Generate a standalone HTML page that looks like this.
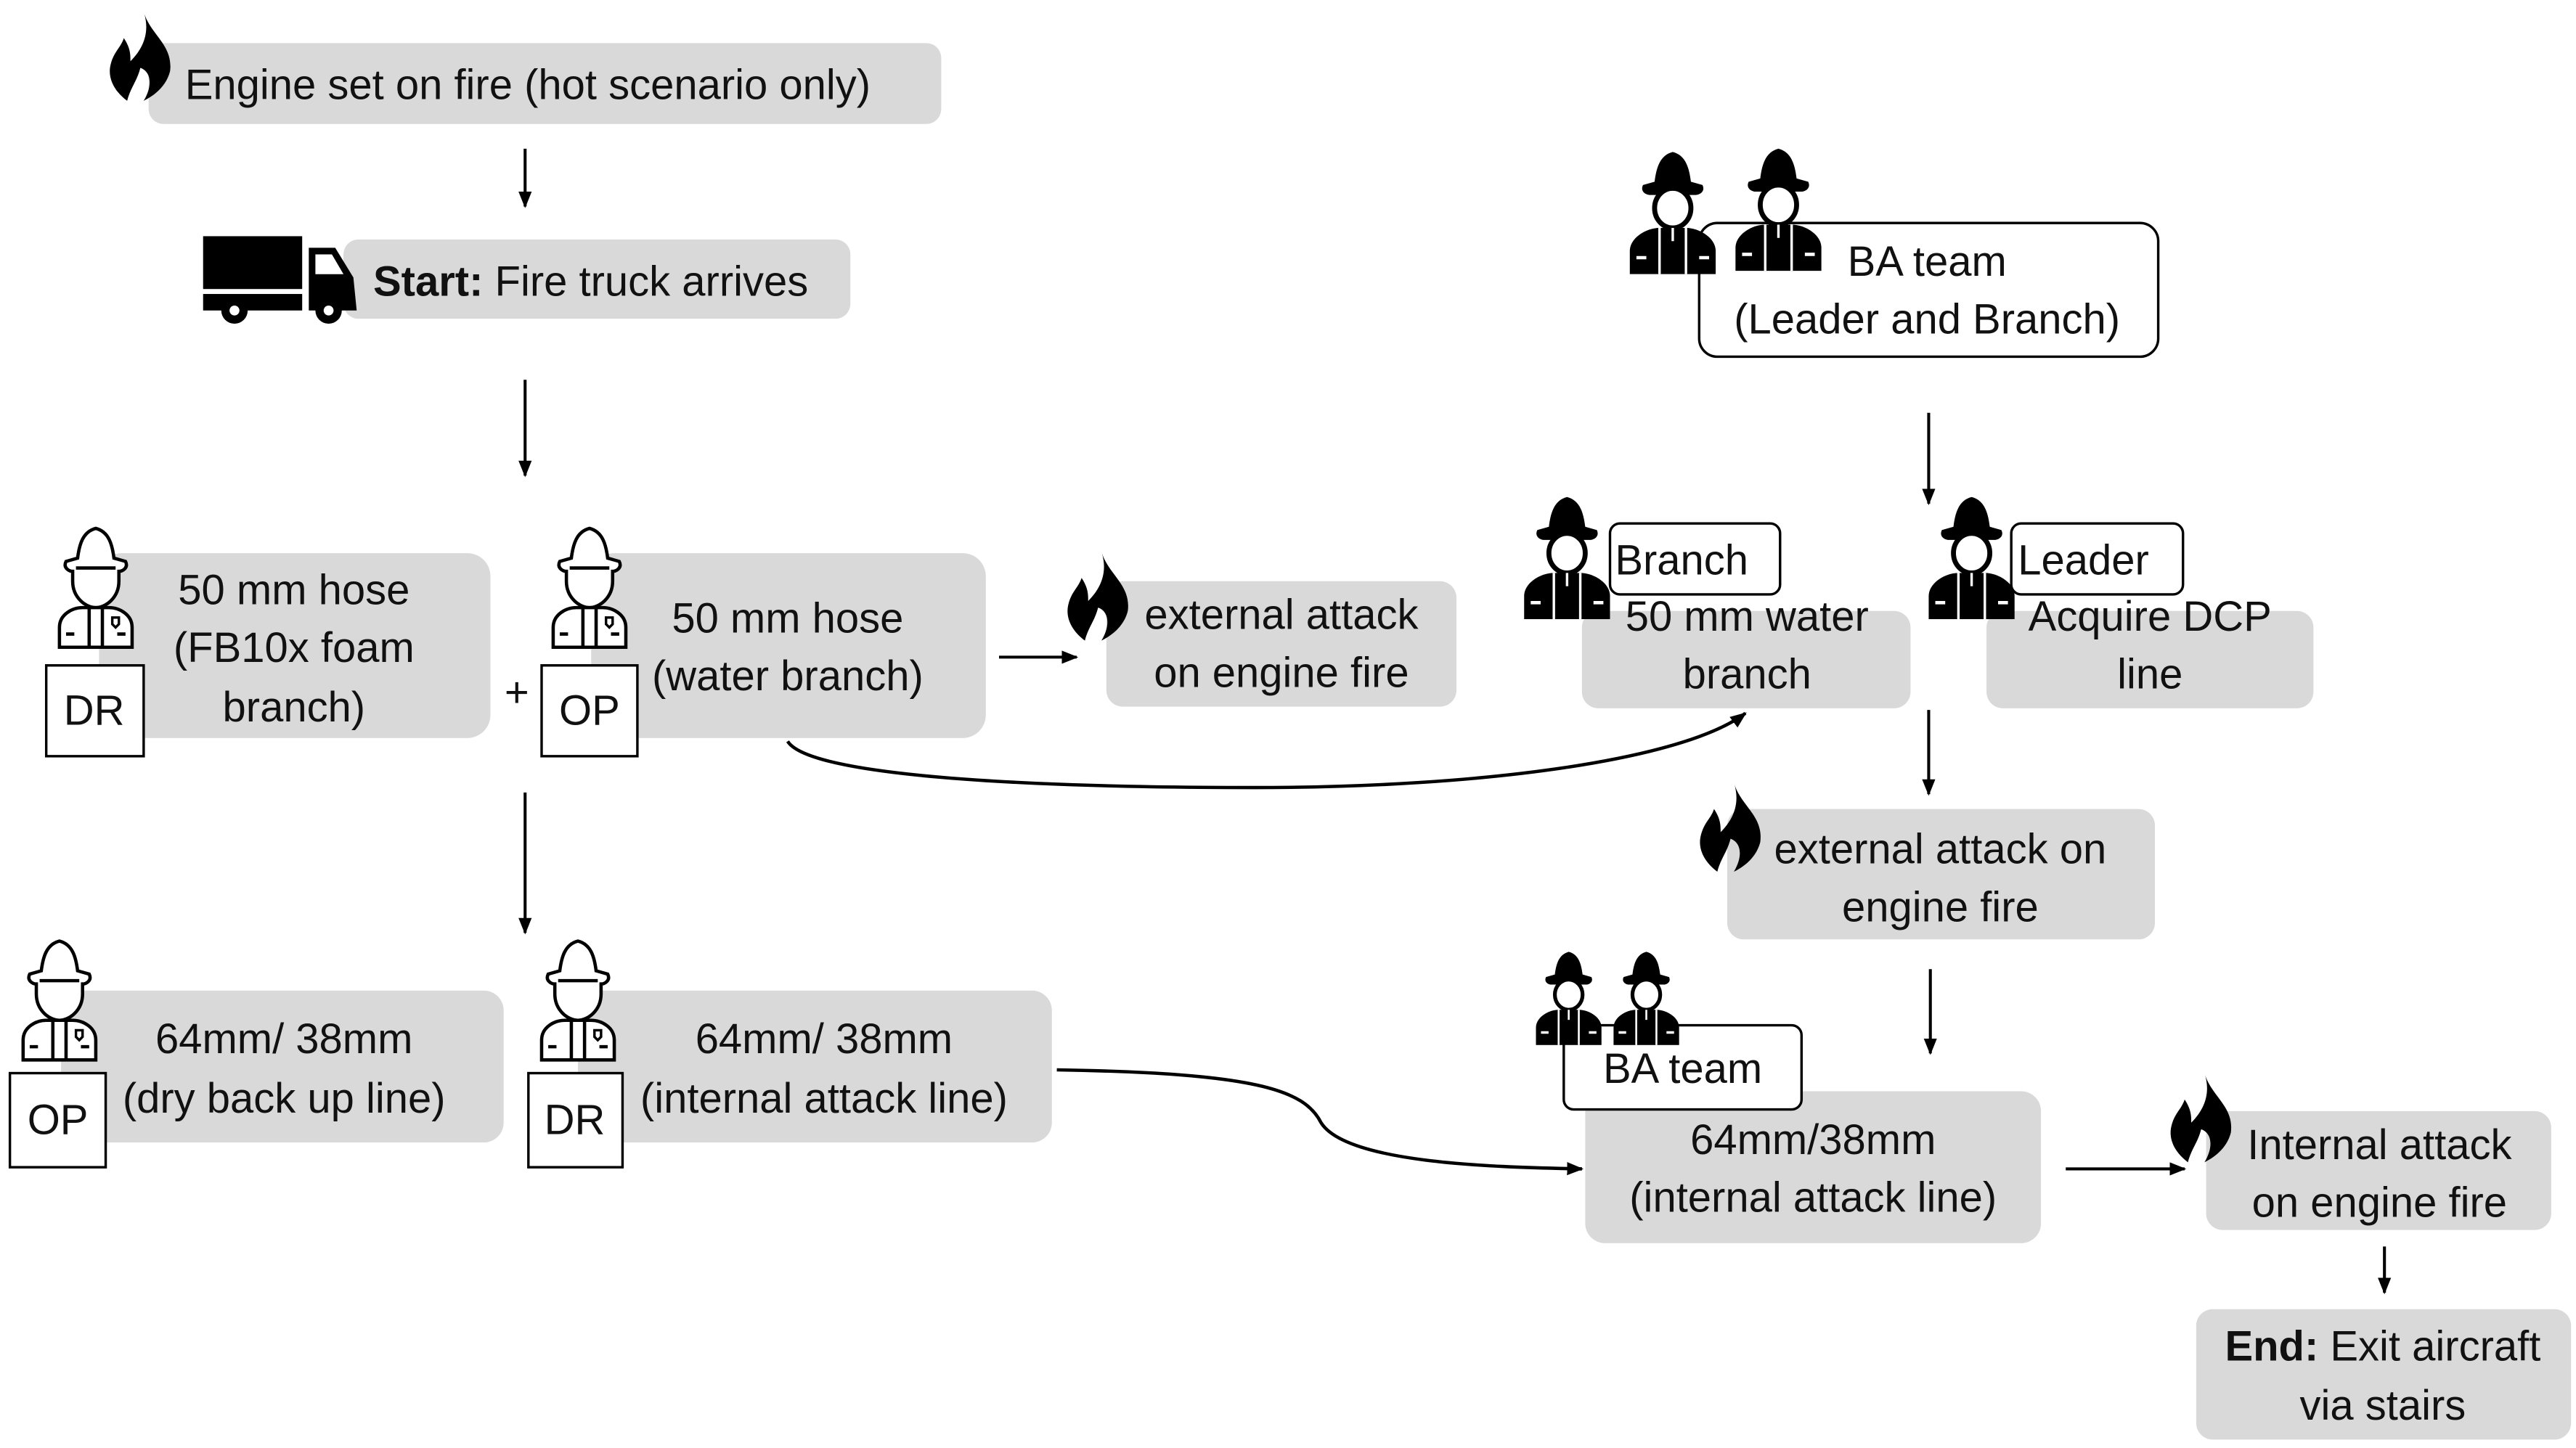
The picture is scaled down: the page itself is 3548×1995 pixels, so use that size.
<!DOCTYPE html>
<html><head><meta charset="utf-8"><style>
html,body{margin:0;padding:0;background:#fff}
svg{display:block}
text{font-family:"Liberation Sans",sans-serif;font-size:25.5px;fill:#111}
.c{text-anchor:middle}
</style></head><body>
<svg width="3548" height="1995" viewBox="0 0 1560 877" xmlns="http://www.w3.org/2000/svg">
<defs>
<marker id="a" markerWidth="10" markerHeight="10" refX="9" refY="5" orient="auto" markerUnits="userSpaceOnUse"><path d="M0,1 L10,5 L0,9 Z" fill="#000"/></marker>
<symbol id="ffo" viewBox="0 0 60 76">
<path d="M30,2 C22,4 20,12 19,20 L12,22 C10,26 14,28 16,28 L16,34 C16,44 24,50 30,50 C36,50 44,44 44,34 L44,28 C46,28 50,26 48,22 L41,20 C40,12 38,4 30,2 Z" fill="#fff" stroke="#000" stroke-width="2"/>
<path d="M18,26 L42,26" stroke="#000" stroke-width="2"/>
<path d="M8,74 L8,62 C8,54 16,50 22,50 L38,50 C44,50 52,54 52,62 L52,74 Z" fill="#fff" stroke="#000" stroke-width="2"/>
<path d="M26,50 L26,74 M34,50 L34,74 M12,66 L17,66 M43,66 L48,66" stroke="#000" stroke-width="2"/>
<path d="M40,56 l4,0 0,4 -2,2 -2,-2 z" fill="none" stroke="#000" stroke-width="1.5"/>
</symbol>
<symbol id="ffs" viewBox="0 0 60 76">
<path d="M30,2 C22,4 20,12 19,20 L12,22 C10,26 14,28 16,28 L44,28 C46,28 50,26 48,22 L41,20 C40,12 38,4 30,2 Z" fill="#000"/>
<ellipse cx="30" cy="36" rx="11" ry="12" fill="#fff" stroke="#000" stroke-width="3"/>
<path d="M4,76 L4,62 C4,54 14,48 22,48 L38,48 C46,48 56,54 56,62 L56,76 Z" fill="#000"/>
<path d="M22,48 L22,76 M38,48 L38,76 M30,48 L30,56" stroke="#fff" stroke-width="1.5"/>
<path d="M8,66 L14,66 M46,66 L52,66" stroke="#fff" stroke-width="2"/>
</symbol>
<symbol id="fl" viewBox="0 0 40 55">
<path d="M22,0 C26,14 40,20 38,36 C36,44 30,50 22,54 C28,44 26,36 20,34 C18,42 14,46 12,54 C4,48 0,40 2,32 C4,24 8,22 10,16 C14,22 14,26 14,30 C22,22 26,12 22,0 Z" fill="#000"/>
</symbol>
</defs>

<rect x="90" y="26" width="480" height="49" rx="9" fill="#d9d9d9"/>
<use href="#fl" x="65" y="7" width="40" height="55"/>
<text x="112" y="60">Engine set on fire (hot scenario only)</text>
<line x1="318" y1="90" x2="318" y2="125" stroke="#000" stroke-width="1.8" marker-end="url(#a)"/>

<rect x="208" y="145" width="307" height="48" rx="9" fill="#d9d9d9"/>
<rect x="123" y="143" width="60" height="32" fill="#000"/>
<rect x="123" y="178" width="60" height="10" fill="#000"/>
<path d="M187,150 L203,150 L214,168 L216,188 L187,188 Z" fill="#000"/>
<path d="M191,154 L201,154 L208,166 L191,166 Z" fill="#fff"/>
<circle cx="142" cy="188" r="8" fill="#000"/><circle cx="142" cy="188" r="3" fill="#fff"/>
<circle cx="199" cy="188" r="8" fill="#000"/><circle cx="199" cy="188" r="3" fill="#fff"/>
<text x="226" y="179"><tspan font-weight="bold">Start:</tspan> Fire truck arrives</text>
<line x1="318" y1="230" x2="318" y2="288" stroke="#000" stroke-width="1.8" marker-end="url(#a)"/>

<rect x="60" y="335" width="237" height="112" rx="14" fill="#d9d9d9"/>
<use href="#ffo" x="28" y="318" width="60" height="76"/>
<rect x="28" y="403" width="59" height="55" fill="#fff" stroke="#000" stroke-width="1.5"/>
<text x="57" y="439" class="c">DR</text>
<text x="178" y="366" class="c">50 mm hose</text>
<text x="178" y="401" class="c">(FB10x foam</text>
<text x="178" y="437" class="c">branch)</text>
<text x="313" y="428" class="c" font-size="30">+</text>

<rect x="358" y="335" width="239" height="112" rx="14" fill="#d9d9d9"/>
<use href="#ffo" x="327" y="318" width="60" height="76"/>
<rect x="328" y="403" width="58" height="55" fill="#fff" stroke="#000" stroke-width="1.5"/>
<text x="357" y="439" class="c">OP</text>
<text x="477" y="383" class="c">50 mm hose</text>
<text x="477" y="418" class="c">(water branch)</text>

<line x1="605" y1="398" x2="652" y2="398" stroke="#000" stroke-width="1.8" marker-end="url(#a)"/>
<rect x="670" y="352" width="212" height="76" rx="10" fill="#d9d9d9"/>
<use href="#fl" x="645" y="334" width="40" height="55"/>
<text x="776" y="381" class="c">external attack</text>
<text x="776" y="416" class="c">on engine fire</text>

<path d="M477,449 C490,470 620,477 760,477 C900,477 1020,460 1057,432" fill="none" stroke="#000" stroke-width="2" marker-end="url(#a)"/>

<rect x="1029" y="135" width="278" height="81" rx="11" fill="#fff" stroke="#000" stroke-width="1.5"/>
<use href="#ffs" x="983" y="90" width="60" height="76"/>
<use href="#ffs" x="1047" y="88" width="60" height="76"/>
<text x="1167" y="167" class="c">BA team</text>
<text x="1167" y="202" class="c">(Leader and Branch)</text>
<line x1="1168" y1="250" x2="1168" y2="305" stroke="#000" stroke-width="1.8" marker-end="url(#a)"/>

<rect x="958" y="370" width="199" height="59" rx="10" fill="#d9d9d9"/>
<rect x="975" y="317" width="103" height="43" rx="6" fill="#fff" stroke="#000" stroke-width="1.5"/>
<use href="#ffs" x="919" y="299" width="60" height="76"/>
<text x="978" y="348">Branch</text>
<text x="1058" y="382" class="c">50 mm water</text>
<text x="1058" y="417" class="c">branch</text>

<rect x="1203" y="370" width="198" height="59" rx="10" fill="#d9d9d9"/>
<rect x="1218" y="317" width="104" height="43" rx="6" fill="#fff" stroke="#000" stroke-width="1.5"/>
<use href="#ffs" x="1164" y="299" width="60" height="76"/>
<text x="1222" y="348">Leader</text>
<text x="1302" y="382" class="c">Acquire DCP</text>
<text x="1302" y="417" class="c">line</text>

<line x1="1168" y1="430" x2="1168" y2="481" stroke="#000" stroke-width="1.8" marker-end="url(#a)"/>
<rect x="1046" y="490" width="259" height="79" rx="10" fill="#d9d9d9"/>
<use href="#fl" x="1028" y="474" width="40" height="55"/>
<text x="1175" y="523" class="c">external attack on</text>
<text x="1175" y="558" class="c">engine fire</text>
<line x1="1169" y1="587" x2="1169" y2="638" stroke="#000" stroke-width="1.8" marker-end="url(#a)"/>

<rect x="960" y="661" width="276" height="92" rx="12" fill="#d9d9d9"/>
<rect x="947" y="621" width="144" height="51" rx="6" fill="#fff" stroke="#000" stroke-width="1.5"/>
<use href="#ffs" x="927" y="575" width="46" height="58"/>
<use href="#ffs" x="974" y="575" width="46" height="58"/>
<text x="1019" y="656" class="c">BA team</text>
<text x="1098" y="699" class="c">64mm/38mm</text>
<text x="1098" y="734" class="c">(internal attack line)</text>

<line x1="1251" y1="708" x2="1323" y2="708" stroke="#000" stroke-width="1.8" marker-end="url(#a)"/>
<rect x="1336" y="673" width="209" height="72" rx="10" fill="#d9d9d9"/>
<use href="#fl" x="1313" y="650" width="40" height="55"/>
<text x="1441" y="702" class="c">Internal attack</text>
<text x="1441" y="737" class="c">on engine fire</text>
<line x1="1444" y1="755" x2="1444" y2="783" stroke="#000" stroke-width="1.8" marker-end="url(#a)"/>
<rect x="1330" y="793" width="227" height="79" rx="10" fill="#d9d9d9"/>
<text x="1443" y="824" class="c"><tspan font-weight="bold">End:</tspan> Exit aircraft</text>
<text x="1443" y="860" class="c">via stairs</text>

<line x1="318" y1="480" x2="318" y2="565" stroke="#000" stroke-width="1.8" marker-end="url(#a)"/>
<rect x="37" y="600" width="268" height="92" rx="12" fill="#d9d9d9"/>
<use href="#ffo" x="6" y="568" width="60" height="76"/>
<rect x="6" y="650" width="58" height="57" fill="#fff" stroke="#000" stroke-width="1.5"/>
<text x="35" y="687" class="c">OP</text>
<text x="172" y="638" class="c">64mm/ 38mm</text>
<text x="172" y="674" class="c">(dry back up line)</text>

<rect x="350" y="600" width="287" height="92" rx="12" fill="#d9d9d9"/>
<use href="#ffo" x="320" y="568" width="60" height="76"/>
<rect x="320" y="650" width="57" height="57" fill="#fff" stroke="#000" stroke-width="1.5"/>
<text x="348" y="687" class="c">DR</text>
<text x="499" y="638" class="c">64mm/ 38mm</text>
<text x="499" y="674" class="c">(internal attack line)</text>

<path d="M640,648 C760,650 790,660 800,680 C815,704 900,707 958,708" fill="none" stroke="#000" stroke-width="2" marker-end="url(#a)"/>
</svg>
</body></html>
